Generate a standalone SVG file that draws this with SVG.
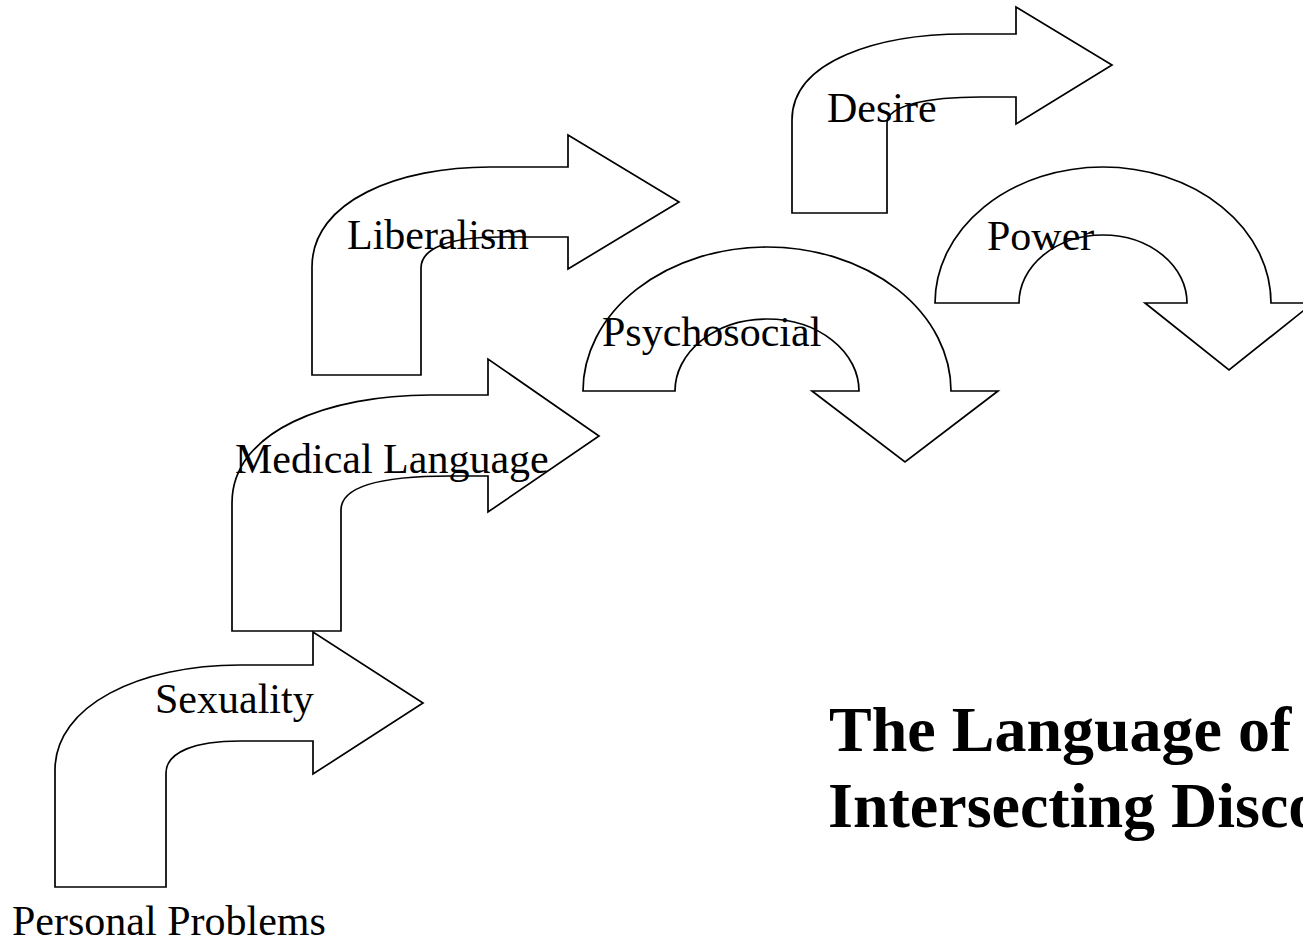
<svg xmlns="http://www.w3.org/2000/svg" width="1303" height="943" viewBox="0 0 1303 943">
<style>
.shape{fill:#ffffff;stroke:#000000;stroke-width:1.7;stroke-linejoin:miter}
.lbl{font-family:"Liberation Serif","Times New Roman",serif;font-size:42px;fill:#000000}
.title{font-family:"Liberation Serif","Times New Roman",serif;font-size:64px;font-weight:bold;fill:#000000}
</style>
<rect width="1303" height="943" fill="#ffffff"/>
<g id="connectors"></g>
<g id="node-sexuality">
<path class="shape" d="M55,887 L55,770 C55,705 140,665 240,665 L313,665 L313,632 L423,703 L313,774 L313,741 L240,741 C195,741 166,752 166,773 L166,887 Z"/>
<text class="lbl" x="155" y="713">Sexuality</text>
</g>
<g id="node-medical">
<path class="shape" d="M232,631 L232,503 C232,430 330,395 430,395 L488,395 L488,359 L599,436 L488,512 L488,476 L450,476 C380,476 341,487 341,510 L341,631 Z"/>
<text class="lbl" x="235" y="473">Medical Language</text>
</g>
<g id="node-liberalism">
<path class="shape" d="M312,375 L312,267 C312,200 400,167 490,167 L568,167 L568,135 L679,202 L568,269 L568,237 L500,237 C450,237 421,248 421,268 L421,375 Z"/>
<text class="lbl" x="347" y="249">Liberalism</text>
</g>
<g id="node-psychosocial">
<path class="shape" d="M583,391 A184,144 0 0 1 951,391 L998,391 L905,462 L812,391 L859,391 A92,72 0 0 0 675,391 Z"/>
<text class="lbl" x="602" y="346">Psychosocial</text>
</g>
<g id="node-desire">
<path class="shape" d="M792,213 L792,120 C792,60 880,34 965,34 L1016,34 L1016,7 L1112,65 L1016,124 L1016,97 L980,97 C930,97 887,105 887,123 L887,213 Z"/>
<text class="lbl" x="827" y="122">Desire</text>
</g>
<g id="node-power">
<path class="shape" d="M935,303 A168,136 0 0 1 1271,303 L1313,303 L1229,370 L1145,303 L1187,303 A84,68 0 0 0 1019,303 Z"/>
<text class="lbl" x="987" y="250">Power</text>
</g>
<g id="node-personal">
<text class="lbl" x="12" y="935">Personal Problems</text>
</g>
<g id="title">
<text class="title" x="829" y="751">The Language of</text>
<text class="title" x="828" y="827">Intersecting Discourses</text>
</g>
</svg>
